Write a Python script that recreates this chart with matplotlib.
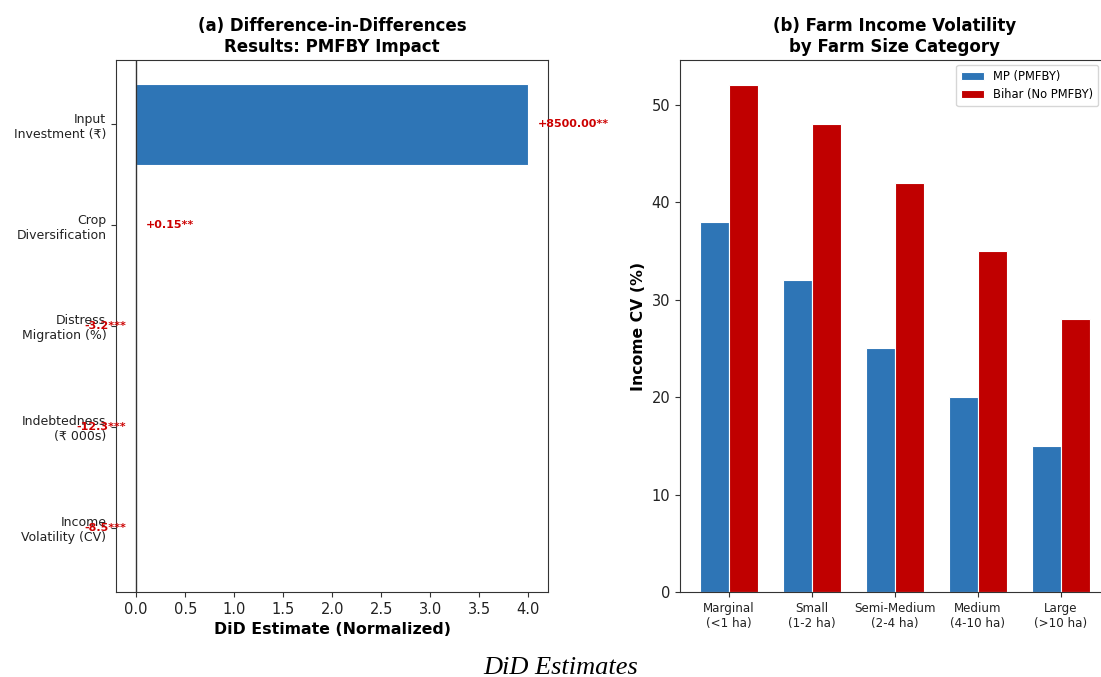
import matplotlib
matplotlib.use("Agg")
import matplotlib.pyplot as plt
import numpy as np

# (a) Difference-in-differences estimates
outcomes = ["Input\nInvestment (₹)", "Crop\nDiversification", "Distress\nMigration (%)",
            "Indebtedness\n(₹ 000s)", "Income\nVolatility (CV)"]
did_values = [8500.00, 0.15, -3.2, -12.3, -8.5]
did_labels = ["+8500.00**", "+0.15**", "-3.2***", "-12.3***", "-8.5***"]
norm_divisor = 2125.0

# (b) Income volatility by farm size
size_categories = ["Marginal\n(<1 ha)", "Small\n(1-2 ha)", "Semi-Medium\n(2-4 ha)",
                   "Medium\n(4-10 ha)", "Large\n(>10 ha)"]
mp_cv = [38, 32, 25, 20, 15]
bihar_cv = [52, 48, 42, 35, 28]

BLUE = "#2E75B6"
RED = "#C00000"
LABEL_RED = "#CC0000"

plt.rcParams["axes.edgecolor"] = "#333333"
plt.rcParams["xtick.color"] = "#333333"
plt.rcParams["ytick.color"] = "#333333"
plt.rcParams["xtick.labelcolor"] = "#222222"
plt.rcParams["ytick.labelcolor"] = "#222222"

fig = plt.figure(figsize=(11.01, 6.77), dpi=100)

# Panel (a)
ax1 = fig.add_axes([116 / 1101, 1 - 592 / 677, 432 / 1101, 532 / 677])
y = np.arange(len(outcomes))
widths = [v / norm_divisor for v in did_values]
ax1.barh(y, widths, height=0.8, color=BLUE, edgecolor="white", linewidth=0.8)
ax1.axvline(0, color="#333333", linewidth=1.0)
ax1.set_yticks(y)
ax1.set_yticklabels(outcomes, fontsize=9)
ax1.invert_yaxis()
ax1.tick_params(axis="x", labelsize=10.5)
ax1.set_xlabel("DiD Estimate (Normalized)", fontsize=11.3, fontweight="bold")
ax1.set_title("(a) Difference-in-Differences\nResults: PMFBY Impact",
              fontsize=12, fontweight="bold")
for yi, w, lab, v in zip(y, widths, did_labels, did_values):
    if v >= 0:
        ax1.text(w + 0.1, yi, lab, ha="left", va="center", fontsize=8,
                 fontweight="bold", color=LABEL_RED)
    else:
        ax1.text(w - 0.1, yi, lab, ha="right", va="center", fontsize=8,
                 fontweight="bold", color=LABEL_RED)

# Panel (b)
ax2 = fig.add_axes([680 / 1101, 1 - 592 / 677, 429.6 / 1101, 532 / 677])
x = np.arange(len(size_categories))
bw = 0.35
ax2.bar(x - bw / 2, mp_cv, bw, color=BLUE, edgecolor="white", linewidth=0.8,
        label="MP (PMFBY)")
ax2.bar(x + bw / 2, bihar_cv, bw, color=RED, edgecolor="white", linewidth=0.8,
        label="Bihar (No PMFBY)")
ax2.set_xticks(x)
ax2.set_xticklabels(size_categories, fontsize=8.6)
ax2.tick_params(axis="y", labelsize=10.5)
ax2.set_ylabel("Income CV (%)", fontsize=11.3, fontweight="bold")
ax2.set_title("(b) Farm Income Volatility\nby Farm Size Category",
              fontsize=12, fontweight="bold")
ax2.legend(loc="upper right", bbox_to_anchor=(1098 / 1101, 1 - 65 / 677),
           bbox_transform=fig.transFigure, borderaxespad=0, fontsize=8.3,
           framealpha=0.8, fancybox=True)

fig.text(561 / 1101, 1 - 668 / 677, "DiD Estimates", ha="center", va="center",
         fontsize=19, fontstyle="italic", family="Liberation Serif")

fig.savefig("out.png", dpi=100)
